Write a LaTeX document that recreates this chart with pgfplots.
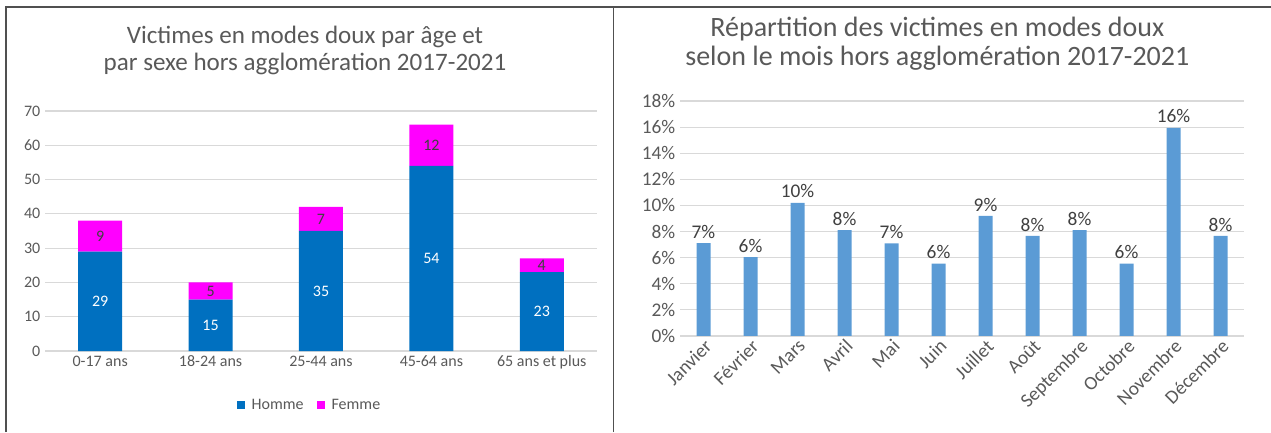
\documentclass[border=0pt]{standalone}
\usepackage{pgfplots}
\pgfplotsset{compat=1.18}
\usepackage{fontspec}
\setmainfont{Carlito}
\definecolor{homme}{HTML}{0070C0}
\definecolor{femme}{HTML}{FF00FF}
\definecolor{mois}{HTML}{5B9BD5}
\definecolor{txt}{HTML}{595959}
\definecolor{gridc}{HTML}{D9D9D9}
\definecolor{framec}{HTML}{505050}
\definecolor{lbl}{HTML}{404040}

\pgfplotstableread{
x y
0 29
1 15
2 35
3 54
4 23
}\homme
\pgfplotstableread{
x y
0 9
1 5
2 7
3 12
4 4
}\femme
\pgfplotstableread{
x y lab
0 7.12 7
1 6.05 6
2 10.2 10
3 8.1 8
4 7.1 7
5 5.55 6
6 9.2 9
7 7.66 8
8 8.1 8
9 5.55 6
10 15.95 16
11 7.66 8
}\mois

\begin{document}
\begin{tikzpicture}
\path[use as bounding box] (0,0) rectangle (953.25pt,324pt);
\draw[framec, line width=1.2pt] (4.5pt,0) -- (4.5pt,318.75pt) -- (953.25pt,318.75pt);
\draw[framec, line width=1.2pt] (460pt,0) -- (460pt,318.75pt);

\node[txt, font=\fontsize{18.8}{20.5}\selectfont, align=center] at (228.75pt,286pt)
  {Victimes en modes doux par âge et\\par sexe hors agglomération 2017-2021};
\node[txt, font=\fontsize{21}{21.75}\selectfont, align=center] at (703pt,291.4pt)
  {Répartition des victimes en modes doux\\selon le mois hors agglomération 2017-2021};

\begin{axis}[
  at={(33.75pt,60.75pt)}, anchor=south west,
  width=414pt, height=180pt, scale only axis,
  ybar stacked, bar width=33pt,
  xmin=-0.5, xmax=4.5, ymin=0, ymax=70,
  xtick={0,...,4},
  xticklabels={0-17 ans,18-24 ans,25-44 ans,45-64 ans,65 ans et plus},
  ytick={0,10,...,70},
  ymajorgrids, grid style={gridc, line width=0.8pt},
  axis line style={draw=none}, major tick length=0pt,
  tick label style={txt, font=\fontsize{12}{14}\selectfont},
  /pgf/number format/assume math mode=true,
  clip=false,
  point meta=rawy,
  nodes near coords,
  every node near coord/.append style={anchor=center, font=\fontsize{12}{14}\selectfont},
  legend style={at={(0.48,-0.225)}, anchor=center, draw=none, legend columns=2,
     font=\fontsize{12}{14}\selectfont, text=txt,
     /tikz/column 1/.style={column sep=3pt},
     /tikz/column 2/.style={column sep=8pt},
     /tikz/column 3/.style={column sep=3pt}},
  legend image code/.code={\fill[#1] (0pt,-3pt) rectangle (6pt,3pt);},
]
\addplot[fill=homme, draw=none, every node near coord/.append style={white}] table[x=x,y=y] {\homme};
\addplot[fill=femme, draw=none, every node near coord/.append style={lbl}] table[x=x,y=y] {\femme};
\legend{Homme,Femme}
\end{axis}

\begin{axis}[
  at={(510pt,72pt)}, anchor=south west,
  width=423pt, height=176.25pt, scale only axis,
  ybar, bar width=10.5pt,
  xmin=-0.5, xmax=11.5, ymin=0, ymax=18,
  xtick={0,...,11},
  xticklabels={Janvier,Février,Mars,Avril,Mai,Juin,Juillet,Août,Septembre,Octobre,Novembre,Décembre},
  ytick={0,2,...,18},
  yticklabel={\pgfmathprintnumber{\tick}\%},
  ymajorgrids, grid style={gridc, line width=0.8pt},
  axis line style={draw=none}, major tick length=0pt,
  tick label style={txt, font=\fontsize{14.5}{16}\selectfont},
  xticklabel style={rotate=45, anchor=north east, inner sep=1pt},
  /pgf/number format/assume math mode=true,
  clip=false,
  point meta=explicit symbolic,
  nodes near coords={\pgfplotspointmeta\%},
  every node near coord/.append style={lbl, font=\fontsize{14.5}{16}\selectfont},
]
\addplot[fill=mois, draw=none] table[x=x,y=y,meta=lab] {\mois};
\end{axis}
\end{tikzpicture}
\end{document}
